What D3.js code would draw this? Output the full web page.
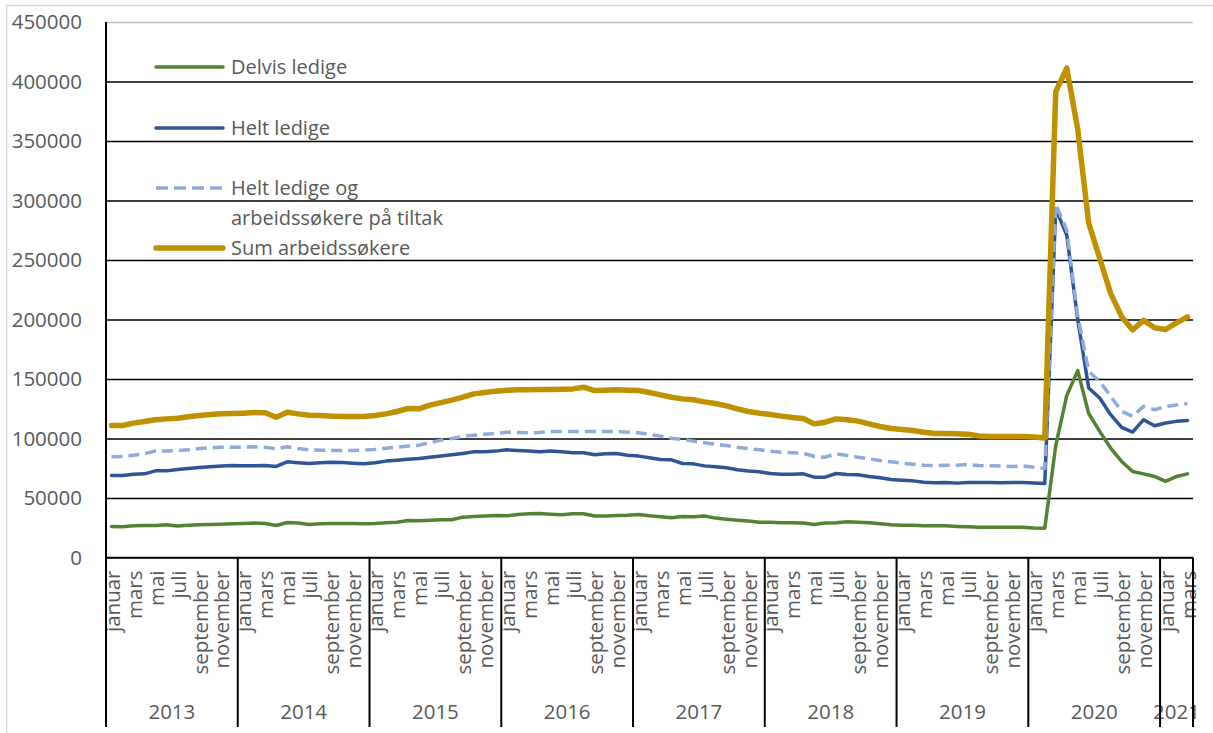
<!DOCTYPE html>
<html>
<head>
<meta charset="utf-8">
<script src="https://cdn.jsdelivr.net/npm/d3@7"></script>
<style>
  body { margin: 0; background: #fff; }
  svg { display: block; }
  text { font-family: "Open Sans", sans-serif; fill: #595959; }
</style>
</head>
<body>
<svg id="chart" width="1213" height="733"></svg>
<script>
// Månedlige tall, januar 2013 – mars 2021
const monthNames = ["januar","februar","mars","april","mai","juni","juli","august","september","oktober","november","desember"];
const years = ["2013","2014","2015","2016","2017","2018","2019","2020","2021"];
const monthsInYear = [12,12,12,12,12,12,12,12,3];
const yTicks = [0,50000,100000,150000,200000,250000,300000,350000,400000,450000];

const delvisLedige = [
  26100,25800,26600,26900,26900,27500,26400,27200,27500,27800,28000,28300,
  28600,28900,28600,26900,29400,28900,27800,28300,28600,28600,28600,28300,
  28600,29200,29700,31100,30800,31400,31700,31700,33900,34500,34800,35300,
  35000,36200,36700,37000,36400,35900,36700,36700,34800,34800,35300,35600,
  36200,35000,34200,33400,34500,34200,34800,33100,32200,31400,30600,29700,
  29700,29200,29200,28900,27800,28900,29200,30000,29700,29200,28300,27500,
  27200,27200,26600,26600,26600,26100,25800,25500,25500,25500,25500,25400,
  24800,24600,94000,136000,157000,121000,106000,92000,80700,72300,70300,68100,
  63900,68100,70300
];
const heltLedige = [
  68900,68900,70000,70300,72800,72800,74000,74800,75600,76200,76800,77300,
  77000,77000,77300,76500,80400,79600,79000,79600,80100,79800,79300,78700,
  79600,81000,81800,82600,83200,84300,85200,86300,87400,88800,88800,89400,
  90500,89900,89400,88800,89400,88800,88000,88000,86300,87100,87400,86000,
  85200,83800,82400,82100,79000,78700,77000,76200,75400,73700,72600,72000,
  70600,70000,70000,70300,67500,67500,70600,69800,69500,68100,67000,65600,
  65000,64400,63300,62800,63000,62500,63000,63000,63000,62800,63000,63000,
  62700,62200,293000,271000,200000,142500,134000,120000,109300,105400,115800,110700,
  113000,114400,115200
];
const heltLedigeOgTiltak = [
  84600,84900,86000,87100,89600,89400,89900,90500,91600,92200,92700,92700,
  92700,93000,92700,91300,93000,91600,90500,90200,89900,89900,89900,90200,
  90800,91900,92700,93600,94400,96400,98600,100000,101700,102800,103600,104200,
  105300,105000,104800,105000,105900,105900,105900,105900,105900,105900,105900,105300,
  104800,103400,102000,100300,99200,97800,96400,95200,94100,92700,91600,90500,
  89400,88500,88000,87700,84900,84300,87100,85700,84300,82900,81500,80400,
  79300,78400,77600,77300,77600,77600,78200,77300,77000,76800,76500,77000,
  75900,74800,297000,275000,203000,156500,148000,135400,122800,118600,127000,124200,
  127000,128100,129300
];
const sumArbeidssokere = [
  110900,110900,112900,114300,115700,116500,117100,118200,119300,120200,120700,121000,
  121300,121800,121600,117900,122100,120700,119600,119300,118800,118500,118500,118500,
  119300,120700,122700,125200,124900,128000,130200,132200,134700,137500,138600,139800,
  140600,140900,140900,141200,141200,141400,141700,143100,140300,140600,140900,140600,
  140300,138600,136700,134700,133300,132500,130800,129400,127400,124900,122700,121300,
  120200,118800,117600,116800,112300,113700,116500,115700,114600,112300,110100,108400,
  107600,106700,105300,104200,104200,103900,103600,102200,101700,101700,101700,101700,
  101200,100400,391500,411300,360000,281000,251500,222000,202400,191200,199400,193000,
  191600,197200,202200
];

(function drawChart() {
  // Kategorier: én per måned
  const categories = [];
  years.forEach((yr, k) => {
    for (let m = 0; m < monthsInYear[k]; m++) categories.push({ year: yr, month: monthNames[m], m });
  });

  const series = [
    { name: "Delvis ledige", values: delvisLedige, color: "#548235", width: 3.5, dash: null, legendY: 67 },
    { name: "Helt ledige", values: heltLedige, color: "#2F5597", width: 3.5, dash: null, legendY: 128 },
    { name: ["Helt ledige og", "arbeidssøkere på tiltak"], values: heltLedigeOgTiltak, color: "#8FAADC", width: 3.5, dash: "11,6", legendY: 188 },
    { name: "Sum arbeidssøkere", values: sumArbeidssokere, color: "#BF9000", width: 5.5, dash: null, legendY: 248 }
  ];

  const plotLeft = 106, plotRight = 1193, plotTop = 22, plotBottom = 557.5, axisEndY = 727;
  const axisFont = 20.5;
  const svg = d3.select("#chart");

  // ytre ramme
  svg.append("rect").attr("x", 6.5).attr("y", 5.5).attr("width", 1230).attr("height", 760)
    .attr("fill", "none").attr("stroke", "#d9d9d9").attr("stroke-width", 1.5);

  const x = d3.scaleBand().domain(d3.range(categories.length)).range([plotLeft, plotRight]).padding(0);
  const y = d3.scaleLinear().domain([0, 450000]).range([plotBottom, plotTop]);
  const cx = i => x(i) + x.bandwidth() / 2;

  // rutenett
  const grid = svg.append("g").attr("transform", `translate(${plotLeft},0)`)
    .call(d3.axisLeft(y).tickValues(yTicks).tickSize(-(plotRight - plotLeft)).tickFormat(""));
  grid.select(".domain").remove();
  grid.selectAll(".tick line")
    .attr("stroke", d => d === 450000 ? "#bfbfbf" : "#000")
    .attr("stroke-width", 1.5);

  // y-akse etiketter
  const yAxis = svg.append("g").attr("transform", `translate(${plotLeft},0)`)
    .call(d3.axisLeft(y).tickValues(yTicks).tickSize(0).tickPadding(24).tickFormat(d3.format("d")));
  yAxis.select(".domain").remove();
  yAxis.selectAll("text").attr("font-size", axisFont).attr("fill", "#595959")
    .style("font-family", "'Open Sans', sans-serif");

  // månedsetiketter
  const xAxis = svg.append("g").attr("transform", `translate(0,${plotBottom})`)
    .call(d3.axisBottom(x)
      .tickValues(d3.range(categories.length).filter(i => categories[i].m % 2 === 0))
      .tickSize(0)
      .tickFormat(i => categories[i].month));
  xAxis.select(".domain").remove();
  xAxis.selectAll("text")
    .attr("transform", "rotate(-90)")
    .attr("x", -13).attr("y", 1).attr("dy", "0.35em")
    .attr("text-anchor", "end")
    .attr("font-size", axisFont).attr("fill", "#595959")
    .style("font-family", "'Open Sans', sans-serif");

  // årsgrupper
  let start = 0;
  const yearSpans = years.map((yr, k) => {
    const s = start; start += monthsInYear[k];
    return { year: yr, s, e: start };
  });
  svg.append("g").selectAll("text").data(yearSpans).join("text")
    .attr("x", d => (x(d.s) + x(d.e - 1) + x.bandwidth()) / 2)
    .attr("y", 719)
    .attr("text-anchor", "middle")
    .attr("font-size", axisFont)
    .text(d => d.year);

  const axisLines = svg.append("g").attr("stroke", "#000").attr("stroke-width", 2);
  axisLines.selectAll("line.sep").data(yearSpans).join("line")
    .attr("class", "sep")
    .attr("x1", d => x(d.e - 1) + x.bandwidth()).attr("x2", d => x(d.e - 1) + x.bandwidth())
    .attr("y1", plotBottom).attr("y2", axisEndY);
  axisLines.append("line").attr("x1", plotLeft).attr("x2", plotLeft).attr("y1", plotTop).attr("y2", axisEndY);
  axisLines.append("line").attr("x1", plotLeft).attr("x2", plotRight).attr("y1", plotBottom).attr("y2", plotBottom).attr("stroke-width", 1.5);

  // linjer
  const line = d3.line().x((v, i) => cx(i)).y(v => y(v));
  svg.append("g").selectAll("path").data(series).join("path")
    .attr("d", d => line(d.values))
    .attr("fill", "none")
    .attr("stroke", d => d.color)
    .attr("stroke-width", d => d.width)
    .attr("stroke-dasharray", d => d.dash)
    .attr("stroke-linejoin", "round")
    .attr("stroke-linecap", d => d.dash ? "butt" : "round");

  // tegnforklaring
  const legend = svg.append("g");
  series.forEach(s => {
    legend.append("line")
      .attr("x1", 156).attr("x2", 223).attr("y1", s.legendY).attr("y2", s.legendY)
      .attr("stroke", s.color).attr("stroke-width", s.width)
      .attr("stroke-dasharray", s.dash ? "12,6" : null)
      .attr("stroke-linecap", s.dash ? "butt" : "round");
    const lines = Array.isArray(s.name) ? s.name : [s.name];
    lines.forEach((t, j) => {
      legend.append("text").attr("x", 231).attr("y", s.legendY + 7 + j * 30)
        .attr("font-size", 20).text(t);
    });
  });
})();
</script>
</body>
</html>
